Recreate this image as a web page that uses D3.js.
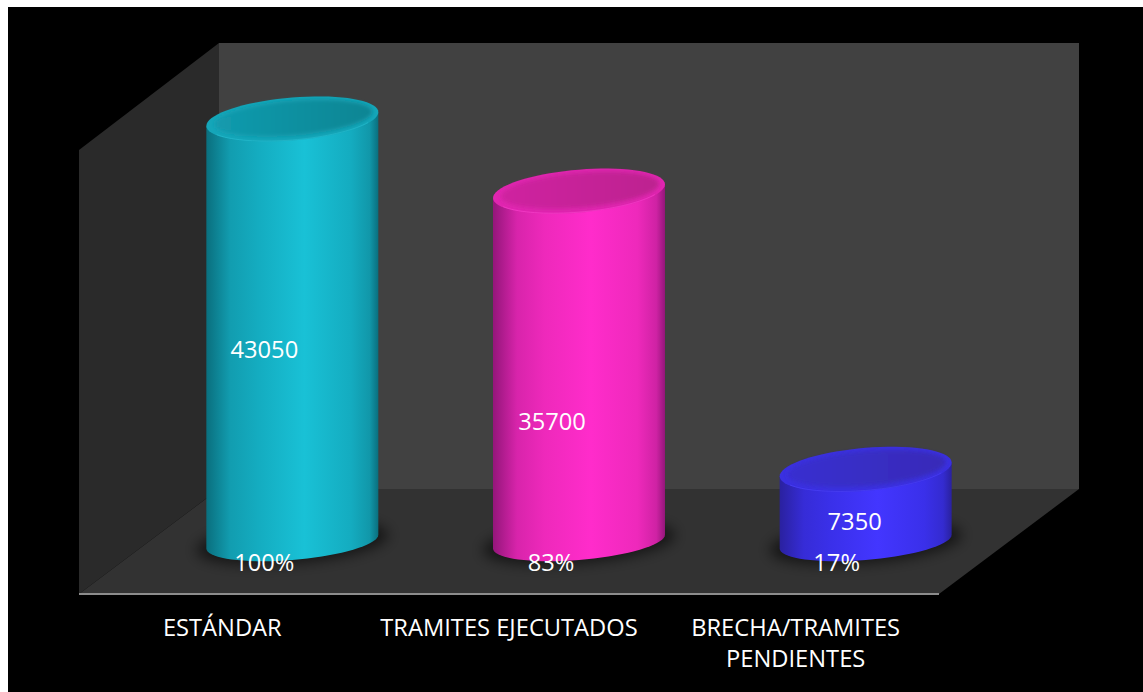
<!DOCTYPE html>
<html>
<head>
<meta charset="utf-8">
<script src="https://cdnjs.cloudflare.com/ajax/libs/d3/7.8.5/d3.min.js"></script>
<style>
  html, body { margin: 0; padding: 0; background: #fff; overflow: hidden; }
  svg { display: block; }
  text { font-family: "Open Sans", sans-serif; fill: #fff; }
</style>
</head>
<body>
<svg id="chart" width="1143" height="692"></svg>
<script>
// Chart data
const categories = ["ESTÁNDAR", "TRAMITES EJECUTADOS", "BRECHA/TRAMITES PENDIENTES"];
const categoryLines = [["ESTÁNDAR"], ["TRAMITES EJECUTADOS"], ["BRECHA/TRAMITES", "PENDIENTES"]];
const values = [43050, 35700, 7350];
const percents = ["100%", "83%", "17%"];

// Cylinder palettes: edge shade, mid, highlight, cap rim, cap interior (light, dark), rim line
const palettes = [
  { edge: "#0a6f7e", mid: "#14acc0", hi: "#19c1d6", rim: "#15a6b9", capA: "#129bae", capB: "#0f8593", line: "#2cc4d6" },
  { edge: "#94167a", mid: "#ee29bb", hi: "#ff2ccb", rim: "#e026b0", capA: "#cf24a0", capB: "#bd2390", line: "#ff4ad6" },
  { edge: "#2a219f", mid: "#3a30ea", hi: "#4336ff", rim: "#3a30e0", capA: "#392ed0", capB: "#372cb8", line: "#5148ff" }
];

// Box geometry of the 3D plot area
const frontLeft = 79, frontRight = 939, frontY = 594;
const depthX = 140, backY = 489, wallTop = 43, sideTop = 150;

// Cylinder base sits at mid-depth of the floor
const baseShiftX = depthX / 2;
const baseY = (frontY + backY) / 2;
const capShear = 0.08, capRy = 21.5, baseRy = 18.5;

const svg = d3.select("#chart");
svg.append("rect").attr("x", 8).attr("y", 7).attr("width", 1135).attr("height", 685).attr("fill", "#000");

const x = d3.scaleBand().domain(categories).range([frontLeft, frontRight]).paddingInner(0.4).paddingOuter(0.2);
const y = d3.scaleLinear().domain([0, 43050]).range([baseY, 119]);

const defs = svg.append("defs");
defs.append("filter").attr("id", "soft").attr("x", "-30%").attr("y", "-80%").attr("width", "160%").attr("height", "260%")
  .append("feGaussianBlur").attr("stdDeviation", 7);
defs.append("filter").attr("id", "softCap").attr("x", "-10%").attr("y", "-30%").attr("width", "120%").attr("height", "160%")
  .append("feGaussianBlur").attr("stdDeviation", 2);

palettes.forEach((p, i) => {
  const shade = d3.interpolateRgb(p.edge, p.mid);
  const body = defs.append("linearGradient").attr("id", `body${i}`);
  [[0, p.edge], [0.14, shade(0.75)], [0.3, p.mid], [0.57, p.hi], [0.84, p.mid], [0.95, shade(0.65)], [1, p.edge]]
    .forEach(([o, c]) => body.append("stop").attr("offset", o).attr("stop-color", c));
  const cap = defs.append("linearGradient").attr("id", `cap${i}`);
  [[0, p.capA], [1, p.capB]].forEach(([o, c]) => cap.append("stop").attr("offset", o).attr("stop-color", c));
});

// Walls and floor
const poly = d3.line();
svg.append("path").attr("fill", "#414141")
  .attr("d", poly([[frontLeft + depthX, wallTop], [frontRight + depthX, wallTop], [frontRight + depthX, backY], [frontLeft + depthX, backY]]) + "Z");
svg.append("path").attr("fill", "#2a2a2a")
  .attr("d", poly([[frontLeft, sideTop], [frontLeft + depthX, wallTop], [frontLeft + depthX, backY], [frontLeft, frontY]]) + "Z");
svg.append("path").attr("fill", "#323232")
  .attr("d", poly([[frontLeft, frontY], [frontLeft + depthX, backY], [frontRight + depthX, backY], [frontRight, frontY]]) + "Z");
svg.append("line").attr("x1", frontLeft).attr("x2", frontRight).attr("y1", frontY).attr("y2", frontY)
  .attr("stroke", "#8c8c8c").attr("stroke-width", 2);

// Points on a sheared ellipse, angle in radians
function capPoint(cx, cy, rx, ry, t) {
  const dx = rx * Math.cos(t);
  return [cx + dx, cy + ry * Math.sin(t) - capShear * dx];
}
function capPath(cx, cy, rx, ry) {
  return poly(d3.range(0, 72).map(k => capPoint(cx, cy, rx, ry, k / 72 * 2 * Math.PI))) + "Z";
}

const bars = svg.selectAll("g.bar").data(values).join("g").attr("class", "bar");

bars.each(function (v, i) {
  const g = d3.select(this);
  const p = palettes[i];
  const rx = x.bandwidth() / 2;
  const cx = x(categories[i]) + rx + baseShiftX;
  const top = y(v);

  // Floor shadow
  g.append("path").attr("d", capPath(cx, baseY + 1, rx + 10, baseRy + 2)).attr("fill", "#000")
    .attr("fill-opacity", 0.6).attr("filter", "url(#soft)");

  // Cylinder wall: down the left side, round the front of the base, up the right side
  const front = d3.range(0, 37).map(k => capPoint(cx, baseY, rx, baseRy, Math.PI - k / 36 * Math.PI));
  const d = poly([capPoint(cx, top, rx, capRy, Math.PI), ...front, capPoint(cx, top, rx, capRy, 0)]) + "Z";
  g.append("path").attr("d", d).attr("fill", `url(#body${i})`);

  // Top cap with a bevelled rim
  g.append("path").attr("d", capPath(cx, top, rx, capRy)).attr("fill", p.rim);
  const arc = d3.range(0, 37).map(k => capPoint(cx, top, rx - 1, capRy - 0.5, Math.PI * 0.85 - k / 36 * Math.PI * 0.7));
  g.append("path").attr("d", poly(arc)).attr("fill", "none").attr("stroke", p.line).attr("stroke-width", 1).attr("stroke-opacity", 0.5);
  g.append("path").attr("d", capPath(cx + 1, top - 1, rx - 7, capRy - 4)).attr("fill", `url(#cap${i})`).attr("filter", "url(#softCap)");
});

// Data labels, placed by hand relative to each cylinder centre
const valueLabelOffsets = [[-28, 350], [-27, 422], [-11, 522]];
const percentLabelOffsets = [[-28, 563], [-28, 563], [-29, 563]];
const fontSize = 23.7;

values.forEach((v, i) => {
  const cx = x(categories[i]) + x.bandwidth() / 2 + baseShiftX;
  svg.append("text").attr("x", cx + valueLabelOffsets[i][0]).attr("y", valueLabelOffsets[i][1])
    .attr("dy", "0.35em").attr("text-anchor", "middle").attr("font-size", fontSize).text(v);
  svg.append("text").attr("x", cx + percentLabelOffsets[i][0]).attr("y", percentLabelOffsets[i][1])
    .attr("dy", "0.35em").attr("text-anchor", "middle").attr("font-size", fontSize).text(percents[i]);
});

// Category labels below the front edge
categoryLines.forEach((lines, i) => {
  const cx = x(categories[i]) + x.bandwidth() / 2;
  lines.forEach((t, k) => {
    svg.append("text").attr("x", cx).attr("y", 628 + k * 31).attr("dy", "0.35em")
      .attr("text-anchor", "middle").attr("font-size", fontSize).text(t);
  });
});
</script>
</body>
</html>
